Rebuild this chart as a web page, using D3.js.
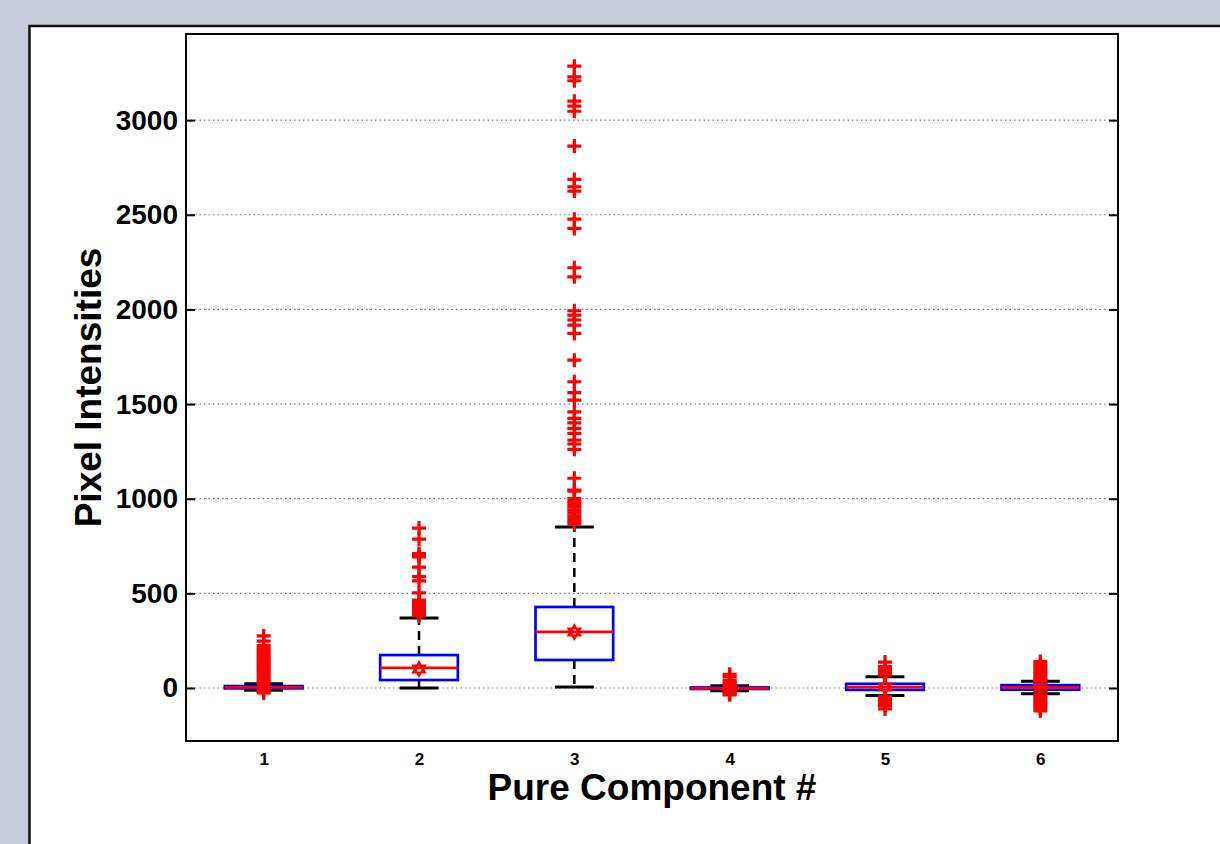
<!DOCTYPE html>
<html>
<head>
<meta charset="utf-8">
<script src="https://cdn.jsdelivr.net/npm/d3@7"></script>
<style>
  html, body { margin: 0; padding: 0; background: #c7cbda; }
  svg { display: block; font-family: "Liberation Sans", Arial, sans-serif; }
</style>
</head>
<body>
<svg id="box-chart"></svg>
<script>
// values
var components = [1, 2, 3, 4, 5, 6];
var q1 = [-2, 42, 148, -5, -10, -9];
var medians = [3, 106, 296, -2, 5, 3];
var q3 = [10, 174, 428, 3, 22, 15];
var whiskerLo = [-12, 0, 5, -14, -40, -30];
var whiskerHi = [22, 370, 850, 12, 60, 35];
var means = [6, 100, 296, -3, 5, 2];

var outliers1 = [275, 248, 224, 210, 198, 186, 174, 162, 150, 138, 126, 114, 102, 90, 78, 66, 54, 42, 30, -18, -26];
var outliers2 = [845, 787, 710, 700, 692, 639, 588, 566, 502, 465, 453, 441, 429, 417, 405, 393, 381];
var outliers3 = [3285, 3229, 3208, 3100, 3074, 3047, 2863, 2687, 2648, 2625, 2477, 2428, 2220, 2172,
  1993, 1970, 1944, 1917, 1873, 1732, 1618, 1560, 1521, 1459, 1424, 1401, 1372, 1345, 1310, 1289, 1261,
  1108, 1046, 1040, 1000, 985, 970, 955, 940, 925, 910, 895, 880, 866];
var outliers4 = [72, 58, 40, 30, 20, 10, -10, -20, -30, -36];
var outliers5 = [137, 113, 98, 88, 78, 68, -46, -58, -70, -82, -94, -111];
var outliers6 = [140, 124, 110, 98, 86, 74, 62, 50, 40, -36, -48, -60, -72, -84, -96, -108, -121];
var outliers = [outliers1, outliers2, outliers3, outliers4, outliers5, outliers6];

var yTicks = [0, 500, 1000, 1500, 2000, 2500, 3000];

var svgWidth = 1220, svgHeight = 844;
var margin = { top: 34, right: 102, bottom: 103, left: 186 };
var width = svgWidth - margin.left - margin.right;
var height = svgHeight - margin.top - margin.bottom;

var svg = d3.select('#box-chart')
    .attr("width", svgWidth)
    .attr("height", svgHeight);

// grey window background + white figure panel
svg.append("rect")
    .attr("width", svgWidth)
    .attr("height", svgHeight)
    .attr("fill", "#c7cbda");
svg.append("rect")
    .attr("x", 29.5)
    .attr("y", 26)
    .attr("width", 1250)
    .attr("height", 900)
    .attr("fill", "#fff")
    .attr("stroke", "#111")
    .attr("stroke-width", 2.5);

var g = svg.append("g")
    .attr("transform", "translate(" + margin.left + "," + margin.top + ")");

var x = d3.scaleLinear()
    .domain([0.5, 6.5])
    .range([0, width]);

var y = d3.scaleLinear()
    .domain([-280, 3455])
    .range([height, 0]);

// dotted grid
g.append("g")
    .selectAll("line")
    .data(yTicks)
    .join("line")
    .attr("x1", 0)
    .attr("x2", width)
    .attr("y1", function(d) { return y(d); })
    .attr("y2", function(d) { return y(d); })
    .attr("stroke", "#777")
    .attr("stroke-width", 1.2)
    .attr("stroke-dasharray", "1.5,3");

// axes
var yAxis = g.append("g")
    .call(d3.axisLeft(y).tickValues(yTicks).tickFormat(d3.format("d")).tickSizeInner(-9).tickSizeOuter(0).tickPadding(8));
yAxis.select(".domain").remove();
yAxis.selectAll("line").attr("stroke", "#000").attr("stroke-width", 2);
yAxis.selectAll("text")
    .attr("fill", "#000")
    .style("font-size", "28px")
    .style("font-weight", "bold");

var yAxisR = g.append("g")
    .attr("transform", "translate(" + width + ",0)")
    .call(d3.axisRight(y).tickValues(yTicks).tickSizeInner(-9).tickSizeOuter(0).tickFormat(""));
yAxisR.select(".domain").remove();
yAxisR.selectAll("line").attr("stroke", "#000").attr("stroke-width", 2);

var xAxis = g.append("g")
    .attr("transform", "translate(0," + height + ")")
    .call(d3.axisBottom(x).tickValues(components).tickSize(0).tickPadding(12).tickFormat(d3.format("d")));
xAxis.select(".domain").remove();
xAxis.selectAll("text")
    .attr("fill", "#000")
    .style("font-size", "17px")
    .style("font-weight", "bold");

g.append("rect")
    .attr("width", width)
    .attr("height", height)
    .attr("fill", "none")
    .attr("stroke", "#000")
    .attr("stroke-width", 2);

// boxes
var boxes = components.map(function(c, i) {
    return { c: c, q1: q1[i], med: medians[i], q3: q3[i], lo: whiskerLo[i], hi: whiskerHi[i], mean: means[i], out: outliers[i] };
});

var bw = 0.25, cw = 0.125;
var b = g.append("g").selectAll("g")
    .data(boxes)
    .join("g");

b.append("line")
    .attr("x1", function(d) { return x(d.c); })
    .attr("x2", function(d) { return x(d.c); })
    .attr("y1", function(d) { return y(d.q3); })
    .attr("y2", function(d) { return y(d.hi); })
    .attr("stroke", "#000").attr("stroke-width", 2.5).attr("stroke-dasharray", "9,6");
b.append("line")
    .attr("x1", function(d) { return x(d.c); })
    .attr("x2", function(d) { return x(d.c); })
    .attr("y1", function(d) { return y(d.q1); })
    .attr("y2", function(d) { return y(d.lo); })
    .attr("stroke", "#000").attr("stroke-width", 2.5).attr("stroke-dasharray", "9,6");

["hi", "lo"].forEach(function(k) {
    b.append("line")
        .attr("x1", function(d) { return x(d.c - cw); })
        .attr("x2", function(d) { return x(d.c + cw); })
        .attr("y1", function(d) { return y(d[k]); })
        .attr("y2", function(d) { return y(d[k]); })
        .attr("stroke", "#000").attr("stroke-width", 3);
});

b.append("rect")
    .attr("x", function(d) { return x(d.c - bw); })
    .attr("width", function(d) { return x(d.c + bw) - x(d.c - bw); })
    .attr("y", function(d) { return y(d.q3); })
    .attr("height", function(d) { return Math.max(y(d.q1) - y(d.q3), 1); })
    .attr("fill", "none")
    .attr("stroke", "#0000ff")
    .attr("stroke-width", 2.7);

b.append("line")
    .attr("x1", function(d) { return x(d.c - bw); })
    .attr("x2", function(d) { return x(d.c + bw); })
    .attr("y1", function(d) { return y(d.med); })
    .attr("y2", function(d) { return y(d.med); })
    .attr("stroke", "#ff0000").attr("stroke-width", 2.7);

// outliers as red plus signs
var plus = "M-7,0H7M0,-7V7";
b.each(function(d) {
    d3.select(this).selectAll("path.out")
        .data(d.out)
        .join("path")
        .attr("class", "out")
        .attr("transform", function(v) { return "translate(" + x(d.c) + "," + y(v) + ")"; })
        .attr("d", plus)
        .attr("stroke", "#ff0000")
        .attr("stroke-width", 3.2)
        .attr("fill", "none");
});

// mean marker (hexagram)
var hex = "M0,-7L6,3.5L-6,3.5ZM0,7L6,-3.5L-6,-3.5Z";
b.append("path")
    .attr("transform", function(d) { return "translate(" + x(d.c) + "," + y(d.mean) + ")"; })
    .attr("d", hex)
    .attr("fill", "none")
    .attr("stroke", "#ff0000")
    .attr("stroke-width", 2);

// axis titles
svg.append("text")
    .attr("x", margin.left + width / 2)
    .attr("y", 800)
    .attr("text-anchor", "middle")
    .style("font-size", "37px")
    .style("font-weight", "bold")
    .text("Pure Component #");

svg.append("text")
    .attr("transform", "translate(101," + (margin.top + height / 2) + ") rotate(-90)")
    .attr("text-anchor", "middle")
    .style("font-size", "37px")
    .style("font-weight", "bold")
    .text("Pixel Intensities");
</script>
</body>
</html>
